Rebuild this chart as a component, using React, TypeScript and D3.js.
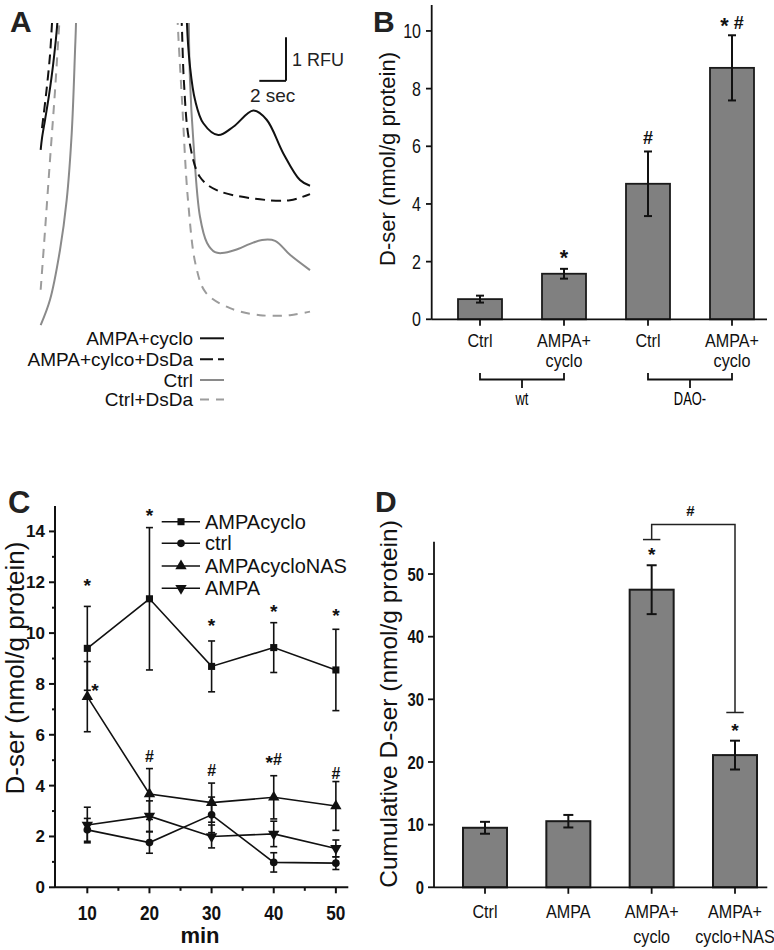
import * as d3 from 'd3';

const FONT = '"Liberation Sans", Arial, Helvetica, sans-serif';

type Pt = [number, number]; // [seconds, RFU]

// ---------- Panel A: fluorescence traces (s, RFU), left = rising edge, right = falling edge
const ampaCycloLeft: Pt[] = [[0.05, 4.12], [0.15, 4.39], [0.38, 4.81], [0.68, 5.38], [0.98, 6.06], [1.3, 7.02], [1.39, 7.55]];
const ampaCycloRight: Pt[] = [[11.0, 7.55], [11.02, 7.02], [11.25, 6.03], [11.63, 5.26], [12.25, 4.73], [13.37, 4.46], [14.5, 4.65], [16.0, 5.02], [17.0, 4.81], [18.25, 4.04], [19.5, 3.43], [20.25, 3.3]];
const ampaCycloDsDaLeft: Pt[] = [[0.15, 4.62], [0.45, 5.38], [0.75, 6.29], [0.9, 7.02], [1.01, 7.55]];
const ampaCycloDsDaRight: Pt[] = [[10.54, 7.55], [10.63, 7.02], [10.8, 5.65], [11.18, 4.35], [12.0, 3.5], [13.25, 3.2], [16.5, 2.99], [18.75, 2.97], [20.25, 3.11]];
const ctrlLeft: Pt[] = [[0.05, 0.11], [0.75, 0.69], [1.5, 1.83], [2.0, 2.97], [2.38, 4.51], [2.63, 6.41], [2.7, 7.02], [2.72, 7.55]];
const ctrlRight: Pt[] = [[11.14, 7.55], [11.25, 5.72], [11.51, 4.28], [12.0, 2.59], [12.53, 1.99], [13.13, 1.78], [13.65, 1.76], [14.63, 1.83], [15.75, 1.97], [16.65, 2.06], [17.63, 2.04], [18.75, 1.72], [20.25, 1.37]];
const ctrlDsDaLeft: Pt[] = [[0.05, 0.92], [0.38, 2.29], [0.75, 3.89], [1.13, 5.49], [1.45, 7.02], [1.58, 7.55]];
const ctrlDsDaRight: Pt[] = [[10.28, 7.55], [10.33, 7.02], [10.65, 5.26], [11.1, 2.97], [11.7, 1.46], [12.45, 0.85], [14.25, 0.5], [16.5, 0.34], [18.75, 0.34], [20.25, 0.42]];
const traceNames = ['AMPA+cyclo', 'AMPA+cylco+DsDa', 'Ctrl', 'Ctrl+DsDa'];
const scaleBarSec = [16.45, 18.45];
const scaleBarRfu = [5.7, 6.7];

// ---------- Panel B
const bLabels = [['Ctrl'], ['AMPA+', 'cyclo'], ['Ctrl'], ['AMPA+', 'cyclo']];
const bValues = [0.7, 1.58, 4.7, 8.72];
const bErrors = [0.12, 0.17, 1.12, 1.13];
const bMarks = ['', '*', '#', '* #'];
const bMarkY = [0, 2.3, 6.32, 10.34];
const bGroups = [{ name: 'wt', from: 0, to: 1 }, { name: 'DAO-', from: 2, to: 3 }];
const bTicks = [0, 2, 4, 6, 8, 10];

// ---------- Panel C
const cMinutes = [10, 20, 30, 40, 50];
const cAmpaCyclo = [9.4, 11.35, 8.69, 9.43, 8.55];
const cAmpaCycloErr = [1.65, 2.8, 1.0, 0.98, 1.6];
const cCtrl = [2.26, 1.76, 2.85, 0.98, 0.95];
const cCtrlErr = [0.45, 0.42, 0.7, 0.38, 0.25];
const cAmpaCycloNas = [7.5, 3.67, 3.33, 3.54, 3.2];
const cAmpaCycloNasErr = [1.38, 1.0, 0.77, 0.85, 0.96];
const cAmpa = [2.45, 2.8, 2.0, 2.1, 1.53];
const cAmpaErr = [0.7, 0.6, 0.45, 0.5, 0.33];
const cSeriesNames = ['AMPAcyclo', 'ctrl', 'AMPAcycloNAS', 'AMPA'];
const cMarks = [
  { x: 10, y: 12.02, t: '*' }, { x: 20, y: 14.78, t: '*' }, { x: 30, y: 10.45, t: '*' },
  { x: 40, y: 10.98, t: '*' }, { x: 50, y: 10.84, t: '*' }, { x: 11.24, y: 7.89, t: '*' },
  { x: 20, y: 5.14, t: '#' }, { x: 30, y: 4.61, t: '#' }, { x: 40, y: 5.07, t: '*#' }, { x: 50, y: 4.48, t: '#' },
];
const cYTicks = [0, 2, 4, 6, 8, 10, 12, 14];
const cYMinor = [1, 3, 5, 7, 9, 11, 13];
const cXTicks = [10, 20, 30, 40, 50];
const cXMinor = [15, 25, 35, 45];

// ---------- Panel D
const dLabels = [['Ctrl'], ['AMPA'], ['AMPA+', 'cyclo'], ['AMPA+', 'cyclo+NAS']];
const dValues = [9.5, 10.55, 47.5, 21.1];
const dErrors = [0.95, 1.0, 3.9, 2.3];
const dStarY = [0, 0, 53.7, 25.6];
const dBracket = { left: 55.5, top: 57.9, right: 27.9, label: 60.1 };
const dTicks = [0, 10, 20, 30, 40, 50];

const idx = ['0', '1', '2', '3'];

const styles: Record<string, { color: string; dash?: string; legendDash?: string }> = {
  'AMPA+cyclo': { color: '#111' },
  'AMPA+cylco+DsDa': { color: '#111', dash: '10,6', legendDash: '13,5' },
  Ctrl: { color: '#8a8a8a' },
  'Ctrl+DsDa': { color: '#9c9c9c', dash: '9,7', legendDash: '9,7' },
};

// text with optional horizontal squeeze (the original uses a narrow face)
const T = ({ x, y, sx = 1, anchor = 'middle', size, weight = 'normal', children }: any) => (
  <text transform={`translate(${x},${y}) scale(${sx},1)`} textAnchor={anchor} fontSize={size} fontWeight={weight}>
    {children}
  </text>
);

// significance marks: asterisk glyph sits high, nudge it down
const markSpans = (s: string) => {
  const out: any[] = [];
  let shifted = false;
  s.split('').forEach((ch, i) => {
    if (ch === '*') {
      out.push(<tspan key={i} dy={shifted ? 0 : '0.25em'} fontSize="1.2em">*</tspan>);
      shifted = true;
    } else {
      out.push(<tspan key={i} dy={shifted ? '-0.25em' : 0}>{ch}</tspan>);
      shifted = false;
    }
  });
  return out;
};

export default function App() {
  // ---- A
  const aX = d3.scaleLinear().domain([0, 20.25]).range([40, 310]);
  const aY = d3.scaleLinear().domain([0, 7.55]).range([330, 0]);
  const aLine = d3.line<Pt>().x(d => aX(d[0])).y(d => aY(d[1])).curve(d3.curveCatmullRom.alpha(0.5));
  const traces = [
    { name: traceNames[0], parts: [ampaCycloLeft, ampaCycloRight] },
    { name: traceNames[1], parts: [ampaCycloDsDaLeft, ampaCycloDsDaRight] },
    { name: traceNames[2], parts: [ctrlLeft, ctrlRight] },
    { name: traceNames[3], parts: [ctrlDsDaLeft, ctrlDsDaRight] },
  ];
  const drawOrder = [3, 2, 1, 0];

  // ---- B
  const bX = d3.scalePoint<string>().domain(idx).range([480, 732]);
  const bY = d3.scaleLinear().domain([0, 10.9]).range([319.3, 5]);

  // ---- C
  const cX = d3.scaleLinear().domain([4.8, 52]).range([55, 348.3]);
  const cY = d3.scaleLinear().domain([0, 15]).range([887.3, 506]);
  const cSeries = [
    { name: cSeriesNames[0], v: cAmpaCyclo, e: cAmpaCycloErr, sym: d3.symbolSquare, size: 50, rot: 0 },
    { name: cSeriesNames[1], v: cCtrl, e: cCtrlErr, sym: d3.symbolCircle, size: 46, rot: 0 },
    { name: cSeriesNames[2], v: cAmpaCycloNas, e: cAmpaCycloNasErr, sym: d3.symbolTriangle, size: 56, rot: 0 },
    { name: cSeriesNames[3], v: cAmpa, e: cAmpaErr, sym: d3.symbolTriangle, size: 56, rot: 180 },
  ];
  const cLine = d3.line<number>().x((_, i) => cX(cMinutes[i])).y(d => cY(d));
  const legendRows = [521.7, 543.3, 566, 588.3];

  // ---- D
  const dX = d3.scalePoint<string>().domain(idx).range([485, 735]);
  const dY = d3.scaleLinear().domain([0, 55]).range([887.3, 542.7]);

  const barW = 44;

  return (
    <svg width={774} height={950} style={{ position: 'absolute', left: 0, top: 0, background: '#fff' }} fontFamily={FONT}>
      <defs>
        <clipPath id="aclip"><rect x={0} y={23} width={330} height={320} /></clipPath>
      </defs>

      {/* ===== Panel A ===== */}
      <text x={10} y={32} fontSize={30} fontWeight="bold" fill="#222">A</text>
      <g clipPath="url(#aclip)" fill="none">
        {drawOrder.map(k => {
          const tr = traces[k];
          const st = styles[tr.name];
          return tr.parts.map((p, j) => (
            <path key={tr.name + j} d={aLine(p) || ''} stroke={st.color} strokeWidth={2} strokeDasharray={st.dash} />
          ));
        })}
      </g>
      <g stroke="#111" strokeWidth={2} fill="none">
        <line x1={aX(scaleBarSec[1])} x2={aX(scaleBarSec[1])} y1={aY(scaleBarRfu[0])} y2={aY(scaleBarRfu[1])} />
        <line x1={aX(scaleBarSec[0])} x2={aX(scaleBarSec[1])} y1={aY(scaleBarRfu[0])} y2={aY(scaleBarRfu[0])} />
      </g>
      <text x={aX(scaleBarSec[1]) + 6} y={aY((scaleBarRfu[0] + scaleBarRfu[1]) / 2) + 7} fontSize={18} fill="#222">1 RFU</text>
      <text x={(aX(scaleBarSec[0]) + aX(scaleBarSec[1])) / 2} y={101.7} fontSize={19} textAnchor="middle" fill="#222">2 sec</text>
      {traceNames.map((n, i) => {
        const st = styles[n];
        const ly = [338.3, 359.3, 380, 399.6][i];
        return (
          <g key={n}>
            <text x={193} y={ly + 6.8} fontSize={19} textAnchor="end" fill="#111">{n}</text>
            <line x1={200} x2={224} y1={ly} y2={ly} stroke={st.color} strokeWidth={2} strokeDasharray={st.legendDash} />
          </g>
        );
      })}

      {/* ===== Panel B ===== */}
      <text x={373} y={32} fontSize={30} fontWeight="bold" fill="#222">B</text>
      <text transform="translate(395,159) rotate(-90)" fontSize={22} textAnchor="middle" fill="#111">D-ser (nmol/g protein)</text>
      {bValues.map((v, i) => (
        <rect key={i} x={bX(idx[i])! - barW / 2} y={bY(v)} width={barW} height={bY(0) - bY(v)} fill="#808080" stroke="#1a1a1a" strokeWidth={1.8} />
      ))}
      <g stroke="#111" strokeWidth={2}>
        {bValues.map((v, i) => {
          const x = bX(idx[i])!;
          return (
            <g key={i}>
              <line x1={x} x2={x} y1={bY(v + bErrors[i])} y2={bY(v - bErrors[i])} />
              <line x1={x - 4} x2={x + 4} y1={bY(v + bErrors[i])} y2={bY(v + bErrors[i])} />
              <line x1={x - 4} x2={x + 4} y1={bY(v - bErrors[i])} y2={bY(v - bErrors[i])} />
            </g>
          );
        })}
      </g>
      <g stroke="#111" strokeWidth={1.8}>
        <line x1={431.7} x2={431.7} y1={5} y2={bY(0)} />
        <line x1={431.7} x2={767} y1={bY(0)} y2={bY(0)} />
        {bTicks.map(t => <line key={t} x1={426} x2={431.7} y1={bY(t)} y2={bY(t)} />)}
        {idx.map(k => <line key={k} x1={bX(k)} x2={bX(k)} y1={bY(0)} y2={bY(0) + 6.5} />)}
      </g>
      <g fill="#111">
        {bTicks.map(t => <T key={t} x={421} y={bY(t) + 7} sx={0.8} size={20} anchor="end">{t}</T>)}
        {bLabels.map((ls, i) => ls.map((l, j) => (
          <T key={i + '-' + j} x={bX(idx[i])} y={346.7 + j * 20} sx={0.85} size={19}>{l}</T>
        )))}
        {bMarks.map((m, i) => m ? (
          <text key={i} x={bX(idx[i])} y={bY(bMarkY[i]) + 6.5} fontSize={18} fontWeight="bold" textAnchor="middle">{markSpans(m)}</text>
        ) : null)}
      </g>
      {bGroups.map(g => {
        const x1 = bX(idx[g.from])!, x2 = bX(idx[g.to])!;
        return (
          <g key={g.name}>
            <path d={`M${x1},373 V379.5 H${x2} V373 M${(x1 + x2) / 2},379.5 V388`} fill="none" stroke="#111" strokeWidth={1.8} />
            <T x={(x1 + x2) / 2} y={405} sx={0.68} size={19}>{g.name}</T>
          </g>
        );
      })}

      {/* ===== Panel C ===== */}
      <text x={8} y={513} fontSize={31} fontWeight="bold" fill="#222">C</text>
      <text transform="translate(24,668) rotate(-90)" fontSize={26} textAnchor="middle" fill="#111">D-ser (nmol/g protein)</text>
      <g stroke="#111" strokeWidth={1.6} fill="none">
        {cSeries.map(s => <path key={s.name} d={cLine(s.v) || ''} />)}
        {cSeries.map(s => s.v.map((v, i) => {
          const x = cX(cMinutes[i]);
          const y1 = cY(v + s.e[i]), y2 = cY(v - s.e[i]);
          return (
            <g key={s.name + i}>
              <line x1={x} x2={x} y1={y1} y2={y2} />
              <line x1={x - 3.5} x2={x + 3.5} y1={y1} y2={y1} />
              <line x1={x - 3.5} x2={x + 3.5} y1={y2} y2={y2} />
            </g>
          );
        }))}
      </g>
      <g fill="#111">
        {cSeries.map(s => s.v.map((v, i) => (
          <path key={s.name + 'm' + i} d={d3.symbol(s.sym, s.size)() || ''}
            transform={`translate(${cX(cMinutes[i])},${cY(v)}) rotate(${s.rot})`} />
        )))}
      </g>
      <g stroke="#111" strokeWidth={2}>
        <line x1={55} x2={55} y1={506} y2={cY(0)} />
        <line x1={55} x2={348.3} y1={cY(0)} y2={cY(0)} />
        {cYTicks.map(t => <line key={t} x1={49} x2={55} y1={cY(t)} y2={cY(t)} />)}
        {cYMinor.map(t => <line key={t} x1={52} x2={55} y1={cY(t)} y2={cY(t)} />)}
        {cXTicks.map(t => <line key={t} x1={cX(t)} x2={cX(t)} y1={cY(0)} y2={cY(0) + 6} />)}
        {cXMinor.map(t => <line key={t} x1={cX(t)} x2={cX(t)} y1={cY(0)} y2={cY(0) + 3.5} />)}
      </g>
      <g fill="#111">
        {cYTicks.map(t => <text key={t} x={45} y={cY(t) + 6} fontSize={17} fontWeight="bold" textAnchor="end">{t}</text>)}
        {cXTicks.map(t => <T key={t} x={cX(t)} y={920} sx={0.82} size={21} weight="bold">{t}</T>)}
        <text x={200} y={943} fontSize={22} fontWeight="bold" textAnchor="middle">min</text>
        {cMarks.map((m, i) => (
          <text key={i} x={cX(m.x)} y={cY(m.y) + 5.5} fontSize={16} fontWeight="bold" textAnchor="middle">{markSpans(m.t)}</text>
        ))}
      </g>
      {cSeries.map((s, i) => (
        <g key={s.name}>
          <line x1={161.7} x2={200} y1={legendRows[i]} y2={legendRows[i]} stroke="#111" strokeWidth={1.6} />
          <path d={d3.symbol(s.sym, s.size)() || ''} transform={`translate(181,${legendRows[i]}) rotate(${s.rot})`} fill="#111" />
          <text x={205} y={legendRows[i] + 7} fontSize={20} fill="#111">{s.name}</text>
        </g>
      ))}

      {/* ===== Panel D ===== */}
      <text x={375} y={512} fontSize={30} fontWeight="bold" fill="#222">D</text>
      <text transform="translate(397,704) rotate(-90)" fontSize={24.5} textAnchor="middle" fill="#111">Cumulative D-ser (nmol/g protein)</text>
      {dValues.map((v, i) => (
        <rect key={i} x={dX(idx[i])! - barW / 2} y={dY(v)} width={barW} height={dY(0) - dY(v)} fill="#808080" stroke="#1a1a1a" strokeWidth={2} />
      ))}
      <g stroke="#111" strokeWidth={2}>
        {dValues.map((v, i) => {
          const x = dX(idx[i])!;
          return (
            <g key={i}>
              <line x1={x} x2={x} y1={dY(v + dErrors[i])} y2={dY(v - dErrors[i])} />
              <line x1={x - 5} x2={x + 5} y1={dY(v + dErrors[i])} y2={dY(v + dErrors[i])} />
              <line x1={x - 5} x2={x + 5} y1={dY(v - dErrors[i])} y2={dY(v - dErrors[i])} />
            </g>
          );
        })}
      </g>
      <g stroke="#111" strokeWidth={1.8}>
        <line x1={434} x2={434} y1={541.7} y2={dY(0)} />
        <line x1={434} x2={767.3} y1={dY(0)} y2={dY(0)} />
        {dTicks.map(t => <line key={t} x1={428} x2={434} y1={dY(t)} y2={dY(t)} />)}
        {idx.map(k => <line key={k} x1={dX(k)} x2={dX(k)} y1={dY(0)} y2={dY(0) + 6.5} />)}
      </g>
      <g stroke="#222" strokeWidth={1.5} fill="none">
        <path d={`M${dX('2')},${dY(dBracket.left)} V${dY(dBracket.top)} H${dX('3')} V${dY(dBracket.right)}`} />
        <line x1={dX('2')! - 8.7} x2={dX('2')! + 8.7} y1={dY(dBracket.left)} y2={dY(dBracket.left)} />
        <line x1={dX('3')! - 8.7} x2={dX('3')! + 8.7} y1={dY(dBracket.right)} y2={dY(dBracket.right)} />
      </g>
      <g fill="#111">
        {dTicks.map(t => <T key={t} x={424} y={dY(t) + 6.7} sx={0.8} size={18.5} weight="bold" anchor="end">{t}</T>)}
        {dLabels.map((ls, i) => ls.map((l, j) => (
          <T key={i + '-' + j} x={dX(idx[i])} y={918 + j * 24.5} sx={0.85} size={19}>{l}</T>
        )))}
        {dStarY.map((v, i) => v ? (
          <text key={i} x={dX(idx[i])} y={dY(v) + 5.5} fontSize={16} fontWeight="bold" textAnchor="middle">{markSpans('*')}</text>
        ) : null)}
        <text x={(dX('2')! + dX('3')!) / 2 - 3} y={dY(dBracket.label) + 5.5} fontSize={15} fontWeight="bold" textAnchor="middle">#</text>
      </g>
    </svg>
  );
}
